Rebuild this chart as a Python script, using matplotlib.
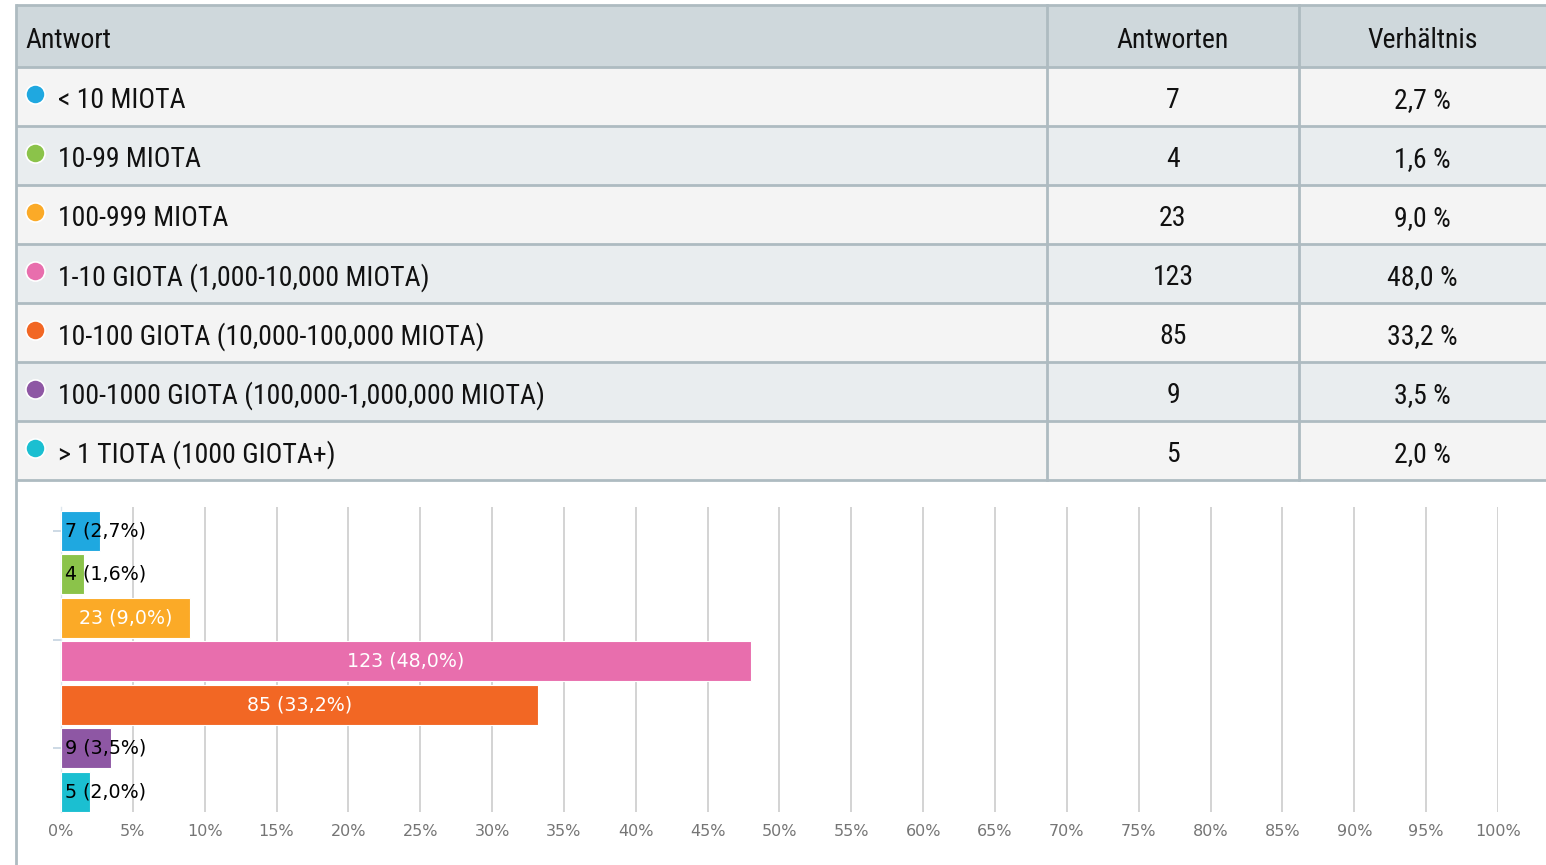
import matplotlib
matplotlib.use("Agg")
import matplotlib.pyplot as plt
from matplotlib.patches import Rectangle

# ---- data ----
categories = ["< 10 MIOTA", "10-99 MIOTA", "100-999 MIOTA",
              "1-10 GIOTA (1,000-10,000 MIOTA)",
              "10-100 GIOTA (10,000-100,000 MIOTA)",
              "100-1000 GIOTA (100,000-1,000,000 MIOTA)",
              "> 1 TIOTA (1000 GIOTA+)"]
counts = [7, 4, 23, 123, 85, 9, 5]
percents = [2.7, 1.6, 9.0, 48.0, 33.2, 3.5, 2.0]
colors = ["#1fa8e0", "#8bc34a", "#fbaa27", "#e86ead", "#f26724", "#8e57a4", "#1bbfd1"]
headers = ["Antwort", "Antworten", "Verhältnis"]
xticks = list(range(0, 101, 5))

W, H = 1546, 865
fig = plt.figure(figsize=(W / 100, H / 100), dpi=100)

narrow = ["Liberation Sans Narrow", "Roboto Condensed", "DejaVu Sans"]

# ---- table overlay (pixel coordinates) ----
ov = fig.add_axes([0, 0, 1, 1])
ov.set_xlim(0, W)
ov.set_ylim(H, 0)
ov.axis("off")

line_c = "#aebbc1"
x0, x1, x2, x3 = 16, 1047, 1299, W
top, head_b = 5, 67
row_h = 59
ov.add_patch(Rectangle((x0, top), x3 - x0, head_b - top, facecolor="#cfd8dc", edgecolor="none"))
for i in range(len(categories)):
    y = head_b + i * row_h
    fc = "#f4f4f4" if i % 2 == 0 else "#e9edef"
    ov.add_patch(Rectangle((x0, y), x3 - x0, row_h, facecolor=fc, edgecolor="none"))
table_b = head_b + len(categories) * row_h
for i in range(len(categories) + 2):
    y = top if i == 0 else head_b + (i - 1) * row_h
    ov.plot([x0, x3], [y, y], color=line_c, lw=2, solid_capstyle="butt")
ov.plot([x0, x0], [top, H], color=line_c, lw=2)
for xc in (x1, x2):
    ov.plot([xc, xc], [top, table_b], color=line_c, lw=2)

fs_t = 20
hy = (top + head_b) / 2 + 4
ov.text(25, hy, headers[0], fontsize=fs_t, family=narrow, va="center", ha="left", color="#111")
ov.text((x1 + x2) / 2, hy, headers[1], fontsize=fs_t, family=narrow, va="center", ha="center", color="#111")
ov.text((x2 + x3) / 2, hy, headers[2], fontsize=fs_t, family=narrow, va="center", ha="center", color="#111")
for i, (cat, c, p, col) in enumerate(zip(categories, counts, percents, colors)):
    yc = head_b + i * row_h + row_h / 2
    ov.scatter([35], [yc - 3], s=190, color=col, edgecolor="white", linewidth=1.2, zorder=5)
    ov.text(58, yc + 4, cat, fontsize=fs_t, family=narrow, va="center", ha="left", color="#111")
    ov.text((x1 + x2) / 2, yc + 4, str(c), fontsize=fs_t, family=narrow, va="center", ha="center", color="#111")
    ov.text((x2 + x3) / 2, yc + 4, f"{p:.1f} %".replace(".", ","), fontsize=fs_t, family=narrow,
            va="center", ha="center", color="#111")

# ---- bar chart ----
al, ar, at, ab = 61, 1498, 507, 812
ax = fig.add_axes([al / W, (H - ab) / H, (ar - al) / W, (ab - at) / H])
ax.set_facecolor("none")
ypos = list(range(len(categories)))
ax.barh(ypos, percents, height=0.92, color=colors, edgecolor="white", linewidth=0.8, zorder=3)
ax.set_xlim(0, 100)
ax.set_ylim(6.46, -0.55)
ax.set_xticks(xticks)
ax.set_xticklabels([f"{t}%" for t in xticks], fontsize=11.5, color="#757575", family="DejaVu Sans")
ax.tick_params(axis="x", length=0, pad=9)
ax.grid(axis="x", color="#cccccc", lw=1.2, zorder=0)
ax.set_yticks([0, 2.5, 5])
ax.set_yticklabels([])
ax.tick_params(axis="y", length=6, color="#c5d3e0", width=1.2)
for s in ["top", "right", "bottom"]:
    ax.spines[s].set_visible(False)
ax.spines["left"].set_color("#dde6ee")
ax.spines["left"].set_linewidth(1)

for y, c, p in zip(ypos, counts, percents):
    lab = f"{c} ({p:.1f}%)".replace(".", ",")
    if p >= 8:
        ax.text(p / 2, y, lab, ha="center", va="center", color="white", fontsize=13.7,
                family="DejaVu Sans", zorder=4)
    else:
        ax.text(0.3, y, lab, ha="left", va="center", color="#000", fontsize=13.7,
                family="DejaVu Sans", zorder=4)

fig.savefig("out.png", dpi=100)
